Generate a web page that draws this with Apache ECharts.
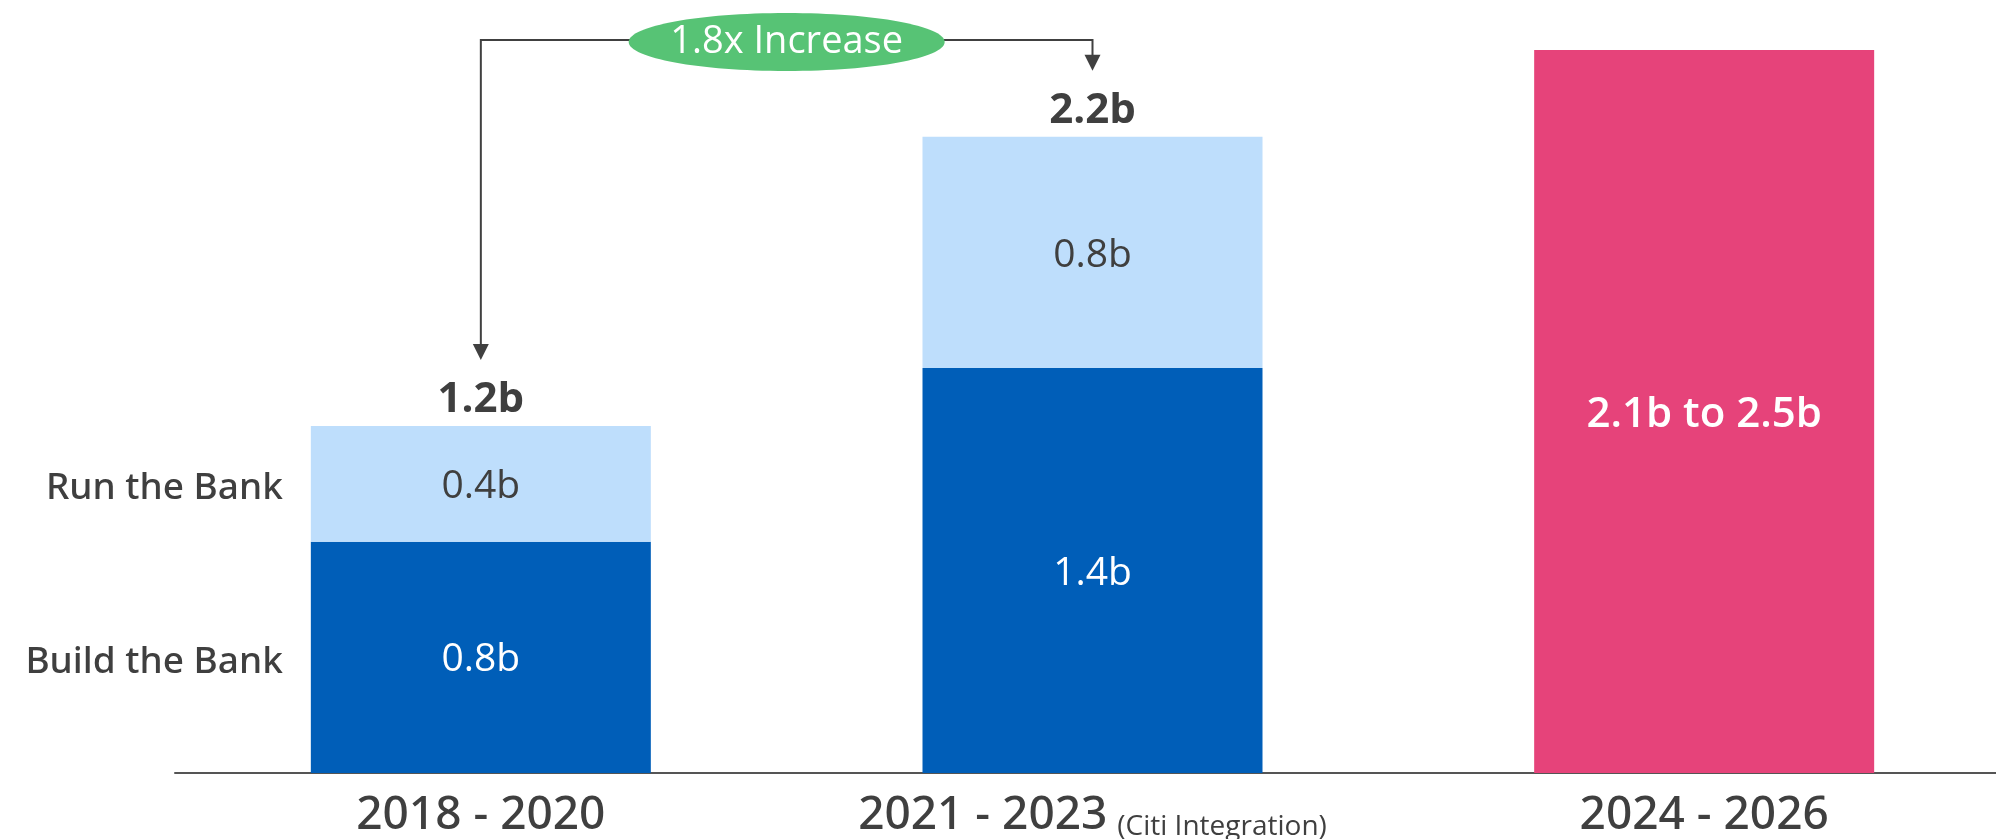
<!DOCTYPE html>
<html>
<head>
<meta charset="utf-8">
<script src="https://cdn.jsdelivr.net/npm/echarts@6/dist/echarts.min.js"></script>
<style>
  html, body { margin: 0; padding: 0; background: #ffffff; }
  #chart { width: 1996px; height: 839px; }
</style>
</head>
<body>
<div id="chart"></div>
<script>
// ---- data ----
const categories = ['2018 - 2020', '2021 - 2023', '2024 - 2026'];
const categoryNotes = ['', '(Citi Integration)', ''];
const buildTheBank = [0.8, 1.4, '-'];
const runTheBank = [0.4, 0.8, '-'];
const totals = [1.2, 2.2, '-'];
const forecastHigh = ['-', '-', 2.5];
const forecastLow = ['-', '-', 2.1];
const segmentNames = ['Build the Bank', 'Run the Bank'];
const increaseText = '1.8x Increase';

// ---- styles ----
const FONT = '"Open Sans", "Noto Sans", sans-serif';
const FONT_MED = '"Noto Sans", "Open Sans", sans-serif';
const TEXT = '#3f3f3f';
const DARK_BLUE = '#005eb8';
const LIGHT_BLUE = '#bedefc';
const PINK = '#e6437a';
const GREEN = '#57c375';
const BAR_W = 340;

const chart = echarts.init(document.getElementById('chart'), null, { renderer: 'canvas' });

const option = {
  backgroundColor: '#ffffff',
  animation: false,
  textStyle: { fontFamily: FONT },
  grid: { left: 175, top: 50, bottom: 66, width: 1835, containLabel: false, outerBoundsMode: 'none' },
  xAxis: {
    type: 'category',
    data: categories,
    axisLine: { show: true, lineStyle: { color: '#555555', width: 2 } },
    axisTick: { show: false },
    axisLabel: {
      margin: 18,
      interval: 0,
      formatter: function (v, i) {
        return categoryNotes[i] ? '{m|' + v + '}{s|' + categoryNotes[i] + '}' : '{m|' + v + '}';
      },
      rich: {
        m: { fontFamily: FONT_MED, fontSize: 46, fontWeight: 500, color: TEXT, lineHeight: 50 },
        s: { fontFamily: FONT, fontSize: 28, color: TEXT, lineHeight: 34, verticalAlign: 'bottom', padding: [0, 0, 0, 10] }
      }
    }
  },
  yAxis: {
    type: 'value',
    min: 0,
    max: 2.5,
    show: false,
    splitLine: { show: false }
  },
  series: [
    {
      name: segmentNames[0],
      type: 'bar',
      stack: 'total',
      barWidth: BAR_W,
      barGap: '-100%',
      data: buildTheBank,
      itemStyle: { color: DARK_BLUE },
      label: {
        show: true, position: 'inside', color: '#ffffff',
        fontFamily: FONT, fontSize: 39, offset: [0, 3],
        formatter: p => p.value + 'b'
      }
    },
    {
      name: segmentNames[1],
      type: 'bar',
      stack: 'total',
      barWidth: BAR_W,
      barGap: '-100%',
      data: runTheBank,
      itemStyle: { color: LIGHT_BLUE },
      label: {
        show: true, position: 'inside', color: TEXT,
        fontFamily: FONT, fontSize: 39, offset: [0, 3],
        formatter: p => p.value + 'b'
      }
    },
    {
      name: 'Outlook',
      type: 'bar',
      stack: 'total',
      barWidth: BAR_W,
      barGap: '-100%',
      data: forecastHigh,
      itemStyle: { color: PINK },
      label: {
        show: true, position: 'inside', color: '#ffffff',
        fontFamily: FONT, fontSize: 42, fontWeight: 600, offset: [0, 4],
        formatter: p => forecastLow[p.dataIndex] + 'b to ' + p.value + 'b'
      }
    },
    {
      name: 'Total',
      type: 'bar',
      barWidth: BAR_W,
      barGap: '-100%',
      z: 1,
      data: totals,
      itemStyle: { color: 'rgba(0,0,0,0)' },
      label: {
        show: true, position: 'top', distance: 5, color: TEXT,
        fontFamily: FONT, fontSize: 42, fontWeight: 'bold',
        formatter: p => p.value + 'b'
      }
    }
  ]
};

chart.setOption(option);

// ---- annotations computed from the axes ----
function xPix(cat) { return chart.convertToPixel({ xAxisIndex: 0 }, cat); }
function yPix(v) { return chart.convertToPixel({ yAxisIndex: 0 }, v); }

const x1 = xPix(categories[0]);
const x2 = xPix(categories[1]);
const lineY = yPix(2.5) - 10;
const tip1 = yPix(totals[0]) - 66;
const tip2 = yPix(totals[1]) - 66;
const AH = 16, AW = 8;
const LINE = '#404040';

const barLeft = x1 - BAR_W / 2;
const graphics = [
  {
    type: 'polyline',
    shape: { points: [[x1, tip1 - AH + 1], [x1, lineY], [x2, lineY], [x2, tip2 - AH + 1]] },
    style: { stroke: LINE, lineWidth: 2, fill: null },
    z: 10
  },
  {
    type: 'polygon',
    shape: { points: [[x1 - AW, tip1 - AH], [x1 + AW, tip1 - AH], [x1, tip1]] },
    style: { fill: LINE },
    z: 10
  },
  {
    type: 'polygon',
    shape: { points: [[x2 - AW, tip2 - AH], [x2 + AW, tip2 - AH], [x2, tip2]] },
    style: { fill: LINE },
    z: 10
  },
  {
    type: 'ellipse',
    shape: { cx: (x1 + x2) / 2, cy: lineY + 2, rx: 158, ry: 29 },
    style: { fill: GREEN },
    z: 11
  },
  {
    type: 'text',
    x: (x1 + x2) / 2, y: lineY + 2,
    style: {
      text: increaseText, fill: '#ffffff', font: '38px ' + FONT,
      align: 'center', verticalAlign: 'middle'
    },
    z: 12
  },
  {
    type: 'text',
    x: barLeft - 28, y: yPix(buildTheBank[0] / 2) + 5,
    style: {
      text: segmentNames[0], fill: TEXT, font: '500 37px ' + FONT_MED,
      align: 'right', verticalAlign: 'middle'
    },
    z: 12
  },
  {
    type: 'text',
    x: barLeft - 28, y: yPix(buildTheBank[0] + runTheBank[0] / 2) + 5,
    style: {
      text: segmentNames[1], fill: TEXT, font: '500 37px ' + FONT_MED,
      align: 'right', verticalAlign: 'middle'
    },
    z: 12
  }
];

chart.setOption({ graphic: graphics });
</script>
</body>
</html>
